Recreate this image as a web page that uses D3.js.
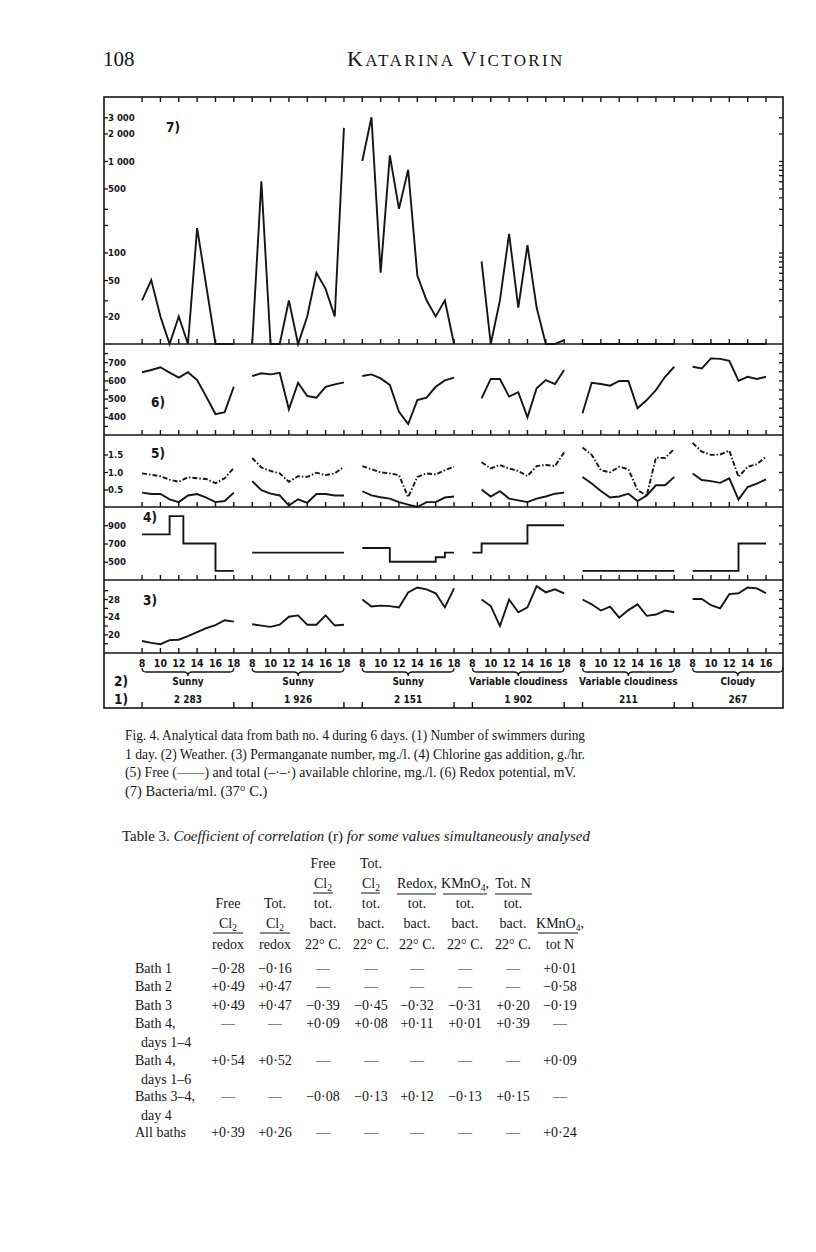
<!DOCTYPE html>
<html>
<head>
<meta charset="utf-8">
<script src="https://cdn.jsdelivr.net/npm/d3@7"></script>
<style>
  body { margin: 0; background: #fff; }
  .sans { font-family: "DejaVu Sans Condensed", "Liberation Sans Narrow", "DejaVu Sans", sans-serif; font-stretch: condensed; font-weight: bold; }
  .serif { font-family: "Liberation Serif", "DejaVu Serif", serif; }
</style>
</head>
<body>
<div id="page"></div>
<script>
// hours sampled each day, and tick hours
var hours = [8, 9, 10, 11, 12, 13, 14, 15, 16, 17, 18];
var hourTicks = [8, 10, 12, 14, 16, 18];
var hourLabels6 = [8, 10, 12, 14, 16];

// (1) swimmers and (2) weather per day
var swimmers = ["2 283", "1 926", "2 151", "1 902", "211", "267"];
var weather = ["Sunny", "Sunny", "Sunny", "Variable cloudiness", "Variable cloudiness", "Cloudy"];

// (7) bacteria/ml, 37 C  (10 = at or below the baseline)
var bacteria = [
  [30, 50, 20, 10, 20, 10, 185, 43, 10, 10, 10],
  [10, 600, 10, 10, 30, 10, 20, 60, 40, 20, 2300],
  [1000, 3000, 60, 1150, 300, 800, 56, 30, 20, 30, 10],
  [null, 80, 10, 30, 160, 25, 120, 25, 10, 10, 11],
  [10, 10, 10, 10, 10, 10, 10, 10, 10, 10, 10],
  [10, 10, 10, 10, 10, 10, 10, 10, 10]
];

// (6) redox potential, mV
var redox = [
  [645, 657, 672, 643, 615, 645, 602, 510, 415, 426, 565],
  [624, 639, 633, 642, 441, 587, 514, 505, 565, 578, 589],
  [624, 633, 611, 575, 428, 360, 492, 505, 565, 600, 615],
  [null, 501, 608, 608, 511, 535, 397, 557, 602, 580, 657],
  [419, 587, 580, 571, 597, 597, 447, 492, 547, 620, 675],
  [675, 666, 721, 718, 708, 598, 620, 608, 620]
];

// (5) free and total available chlorine, mg/l
var freeCl = [
  [0.41, 0.37, 0.37, 0.22, 0.14, 0.33, 0.37, 0.27, 0.14, 0.17, 0.41],
  [0.74, 0.48, 0.38, 0.33, 0.04, 0.22, 0.12, 0.37, 0.37, 0.33, 0.33],
  [0.45, 0.33, 0.28, 0.24, 0.14, 0.07, 0.0, 0.14, 0.14, 0.27, 0.30],
  [null, 0.50, 0.30, 0.45, 0.24, 0.19, 0.14, 0.24, 0.30, 0.38, 0.41],
  [0.86, 0.67, 0.46, 0.27, 0.30, 0.38, 0.17, 0.33, 0.62, 0.62, 0.86],
  [0.96, 0.77, 0.74, 0.69, 0.82, 0.21, 0.57, 0.67, 0.79]
];
var totalCl = [
  [0.96, 0.92, 0.88, 0.78, 0.72, 0.85, 0.82, 0.80, 0.68, 0.82, 1.12],
  [1.40, 1.13, 1.03, 0.96, 0.72, 0.88, 0.86, 0.98, 0.91, 0.96, 1.15],
  [1.17, 1.08, 0.99, 0.96, 0.91, 0.28, 0.86, 0.96, 0.93, 1.05, 1.15],
  [null, 1.28, 1.10, 1.20, 1.10, 1.03, 0.88, 1.17, 1.20, 1.17, 1.56],
  [1.70, 1.49, 1.05, 0.99, 1.15, 1.08, 0.48, 0.33, 1.41, 1.40, 1.66],
  [1.83, 1.58, 1.49, 1.50, 1.61, 0.86, 1.15, 1.22, 1.44]
];

// (4) chlorine gas addition, g/hr (steps: start hours and values)
var gasHours = [
  [8, 11, 12.5, 16, 18],
  [8, 18],
  [8, 11, 16, 17, 18],
  [8, 9, 14, 18],
  [8, 18],
  [8, 13, 16]
];
var gasValues = [
  [800, 1000, 700, 400, 400],
  [600, 600],
  [650, 500, 550, 600, 600],
  [600, 700, 900, 900],
  [400, 400],
  [400, 700, 700]
];

// (3) permanganate number, mg/l
var permanganate = [
  [18.5, 18.1, 17.8, 18.7, 18.8, 19.6, 20.5, 21.4, 22.1, 23.2, 22.9],
  [22.3, 22.0, 21.7, 22.2, 24.0, 24.3, 22.2, 22.2, 24.3, 22.0, 22.2],
  [27.9, 26.3, 26.5, 26.4, 26.1, 29.5, 30.6, 30.2, 29.3, 26.1, 30.4],
  [null, 27.9, 26.4, 21.9, 27.9, 25.0, 26.1, 30.9, 29.5, 30.2, 29.3],
  [27.9, 26.8, 25.4, 26.3, 23.8, 25.5, 26.8, 24.2, 24.5, 25.4, 25.0],
  [28.0, 28.0, 26.6, 25.9, 29.1, 29.3, 30.6, 30.4, 29.3]
];

// y tick values
var bactLeftTicks = [3000, 2000, 1000, 500, 300, 200, 100, 50, 30, 20];
var bactLabels = { 3000: "3 000", 2000: "2 000", 1000: "1 000", 500: "500", 100: "100", 50: "50", 20: "20" };
var bactRightTicks = [3000, 2000, 1000, 900, 800, 700, 600, 500, 400, 300, 200, 100, 90, 80, 70, 60, 50, 40, 30, 20];
var redoxTicks = [350, 400, 450, 500, 550, 600, 650, 700, 750];
var redoxLabels = [400, 500, 600, 700];
var clTicks = [0.5, 1.0, 1.5];
var gasTicks = [500, 700, 900];
var kmnTicks = [18, 20, 22, 24, 26, 28, 30];
var kmnLabels = [20, 24, 28];

// Table 3
var tableRowLabels = [["Bath 1"], ["Bath 2"], ["Bath 3"], ["Bath 4,", "days 1\u20134"], ["Bath 4,", "days 1\u20136"], ["Baths 3\u20134,", "day 4"], ["All baths"]];
var tableValues = [
  ["\u22120\u00b728", "\u22120\u00b716", "\u2014", "\u2014", "\u2014", "\u2014", "\u2014", "+0\u00b701"],
  ["+0\u00b749", "+0\u00b747", "\u2014", "\u2014", "\u2014", "\u2014", "\u2014", "\u22120\u00b758"],
  ["+0\u00b749", "+0\u00b747", "\u22120\u00b739", "\u22120\u00b745", "\u22120\u00b732", "\u22120\u00b731", "+0\u00b720", "\u22120\u00b719"],
  ["\u2014", "\u2014", "+0\u00b709", "+0\u00b708", "+0\u00b711", "+0\u00b701", "+0\u00b739", "\u2014"],
  ["+0\u00b754", "+0\u00b752", "\u2014", "\u2014", "\u2014", "\u2014", "\u2014", "+0\u00b709"],
  ["\u2014", "\u2014", "\u22120\u00b708", "\u22120\u00b713", "+0\u00b712", "\u22120\u00b713", "+0\u00b715", "\u2014"],
  ["+0\u00b739", "+0\u00b726", "\u2014", "\u2014", "\u2014", "\u2014", "\u2014", "+0\u00b724"]
];

var ink = "#151515";
var svg = d3.select("#page").append("svg")
  .attr("width", 816).attr("height", 1252)
  .style("background", "#fff");

// page header
svg.append("text").attr("class", "serif").attr("x", 103).attr("y", 66)
  .attr("font-size", 21).attr("fill", ink).text("108");
var hdr = svg.append("text").attr("class", "serif").attr("x", 347).attr("y", 66)
  .attr("fill", ink).attr("letter-spacing", 2.4);
hdr.append("tspan").attr("font-size", 22).text("K");
hdr.append("tspan").attr("font-size", 17).text("ATARINA ");
hdr.append("tspan").attr("font-size", 22).text("V");
hdr.append("tspan").attr("font-size", 17).text("ICTORIN");

// frame and panel bounds
var figLeft = 104, figRight = 783, figTop = 97, figBottom = 708;
var x = d3.scaleLinear().domain([-4.15, 69.85]).range([figLeft, figRight]);
function tx(day, h) { return x(day * 12 + h - 8); }

var y7 = d3.scaleLog().domain([10, 5000]).range([344, 97]);
var y6 = d3.scaleLinear().domain([300, 800]).range([435, 344]);
var y5 = d3.scaleLinear().domain([0, 2.057]).range([507, 435]);
var y4 = d3.scaleLinear().domain([300, 1100]).range([580, 507]);
var y3 = d3.scaleLinear().domain([15.8, 32.3]).range([653, 580]);
var panelBottoms = [344, 435, 507, 580, 653];

var fig = svg.append("g");
fig.append("rect").attr("x", figLeft).attr("y", figTop)
  .attr("width", figRight - figLeft).attr("height", figBottom - figTop)
  .attr("fill", "none").attr("stroke", ink).attr("stroke-width", 1.6);
panelBottoms.forEach(function (yb) {
  fig.append("line").attr("x1", figLeft).attr("x2", figRight).attr("y1", yb).attr("y2", yb)
    .attr("stroke", ink).attr("stroke-width", 1.5);
});

// hour ticks: up from each panel bottom, down from top
var tickX = [];
d3.range(6).forEach(function (day) {
  hourTicks.forEach(function (h) {
    var px = tx(day, h);
    if (px < figRight - 2) tickX.push(px);
  });
});
panelBottoms.forEach(function (yb) {
  fig.selectAll(null).data(tickX).enter().append("line")
    .attr("x1", d => d).attr("x2", d => d).attr("y1", yb).attr("y2", yb - 5)
    .attr("stroke", ink).attr("stroke-width", 1.4);
});
fig.selectAll(null).data(tickX).enter().append("line")
  .attr("x1", d => d).attr("x2", d => d).attr("y1", figTop).attr("y2", figTop + 5)
  .attr("stroke", ink).attr("stroke-width", 1.4);

// day boundary ticks on the bottom row
var dayEdges = [];
d3.range(6).forEach(function (day) {
  dayEdges.push(tx(day, 8));
  if (day < 5) dayEdges.push(tx(day, 18));
});
fig.selectAll(null).data(dayEdges).enter().append("line")
  .attr("x1", d => d).attr("x2", d => d).attr("y1", figBottom).attr("y2", figBottom - 6)
  .attr("stroke", ink).attr("stroke-width", 1.4);

// y axes: left with labels, right ticks only
function yAxes(scale, leftTicks, fmt, rightTicks) {
  var gl = fig.append("g").attr("class", "sans").attr("transform", "translate(" + figLeft + ",0)")
    .call(d3.axisRight(scale).tickValues(leftTicks).tickSize(4).tickPadding(0).tickFormat(fmt));
  gl.select(".domain").remove();
  gl.selectAll("line").attr("stroke", ink).attr("stroke-width", 1.3);
  gl.selectAll("text").attr("font-size", 9.5).attr("fill", ink).attr("font-family", null);
  var gr = fig.append("g").attr("transform", "translate(" + figRight + ",0)")
    .call(d3.axisLeft(scale).tickValues(rightTicks).tickSize(4).tickFormat(""));
  gr.select(".domain").remove();
  gr.selectAll("line").attr("stroke", ink).attr("stroke-width", 1.3);
}
yAxes(y7, bactLeftTicks, d => bactLabels[d] || "", bactRightTicks);
yAxes(y6, redoxTicks, d => redoxLabels.indexOf(d) >= 0 ? d : "", redoxTicks);
yAxes(y5, clTicks, d3.format(".1f"), clTicks);
yAxes(y4, gasTicks, d => d, gasTicks);
yAxes(y3, kmnTicks, d => kmnLabels.indexOf(d) >= 0 ? d : "", kmnTicks);

// panel numbers
var panelTags = [["7)", 166, 132], ["6)", 151, 407], ["5)", 151, 458], ["4)", 143, 522], ["3)", 143, 605], ["2)", 114, 686], ["1)", 114, 704]];
fig.selectAll(null).data(panelTags).enter().append("text")
  .attr("class", "sans").attr("x", d => d[1]).attr("y", d => d[2])
  .attr("font-size", 13.5).attr("fill", ink).text(d => d[0]);

// series lines, one path per day
function drawDays(series, scale, dash) {
  series.forEach(function (vals, day) {
    var pts = vals.map(function (v, i) { return [hours[i], v]; });
    fig.append("path").datum(pts)
      .attr("d", d3.line().defined(d => d[1] != null)
        .x(d => tx(day, d[0])).y(d => scale(d[1])))
      .attr("fill", "none").attr("stroke", ink).attr("stroke-width", 1.9)
      .attr("stroke-linejoin", "miter")
      .attr("stroke-dasharray", dash || null);
  });
}
drawDays(bacteria, y7);
drawDays(redox, y6);
drawDays(freeCl, y5);
drawDays(totalCl, y5, "5,2,1.5,2");
drawDays(permanganate, y3);

// chlorine gas steps
gasHours.forEach(function (hs, day) {
  var pts = hs.map(function (h, i) { return [h, gasValues[day][i]]; });
  fig.append("path").datum(pts)
    .attr("d", d3.line().curve(d3.curveStepAfter).x(d => tx(day, d[0])).y(d => y4(d[1])))
    .attr("fill", "none").attr("stroke", ink).attr("stroke-width", 1.9);
});

// hour labels, braces, weather, swimmers
d3.range(6).forEach(function (day) {
  var hl = day < 5 ? hourTicks : hourLabels6;
  fig.selectAll(null).data(hl).enter().append("text")
    .attr("class", "sans").attr("x", h => tx(day, h)).attr("y", 667)
    .attr("text-anchor", "middle").attr("font-size", 10.5).attr("fill", ink).text(h => h);
  var x0 = tx(day, 8), x1 = Math.min(tx(day, 18), figRight), xc = (x0 + x1) / 2;
  fig.append("path")
    .attr("d", "M" + x0 + ",668 Q" + x0 + ",672 " + (x0 + 4) + ",672 L" + (xc - 4) + ",672 Q" + xc + ",672 " + xc + ",676 Q" + xc + ",672 " + (xc + 4) + ",672 L" + (x1 - 4) + ",672 Q" + x1 + ",672 " + x1 + ",668")
    .attr("fill", "none").attr("stroke", ink).attr("stroke-width", 1.3);
  fig.append("text").attr("class", "sans").attr("x", xc).attr("y", 685)
    .attr("text-anchor", "middle").attr("font-size", 10).attr("fill", ink).text(weather[day]);
  fig.append("text").attr("class", "sans").attr("x", xc).attr("y", 703)
    .attr("text-anchor", "middle").attr("font-size", 10).attr("fill", ink).text(swimmers[day]);
});

// figure caption
var caption = [
  ["Fig. 4. Analytical data from bath no. 4 during 6 days. (1) Number of swimmers during", 460],
  ["1 day. (2) Weather. (3) Permanganate number, mg./l. (4) Chlorine gas addition, g./hr.", 460],
  ["(5) Free (\u2014\u2014) and total (\u2013\u00b7\u2013\u00b7) available chlorine, mg./l. (6) Redox potential, mV.", 451],
  ["(7) Bacteria/ml. (37\u00b0 C.)", null]
];
caption.forEach(function (c, i) {
  var t = svg.append("text").attr("class", "serif").attr("x", 125).attr("y", 740 + i * 18.5)
    .attr("font-size", 14.5).attr("fill", ink).text(c[0]);
  if (c[1]) t.attr("textLength", c[1]).attr("lengthAdjust", "spacingAndGlyphs");
});

// table title
var tt = svg.append("text").attr("class", "serif").attr("x", 122).attr("y", 841)
  .attr("font-size", 14.9).attr("fill", ink);
tt.append("tspan").text("Table 3. ");
tt.append("tspan").attr("font-style", "italic").text("Coefficient of correlation ");
tt.append("tspan").text("(r) ");
tt.append("tspan").attr("font-style", "italic").text("for some values simultaneously analysed");

// table headers
var colX = [228, 275, 323, 371, 417, 465, 513, 560];
var tbl = svg.append("g").attr("class", "serif").attr("font-size", 14).attr("fill", ink);
function cell(xc, yb, parts) {
  var t = tbl.append("text").attr("x", xc).attr("y", yb).attr("text-anchor", "middle");
  parts.forEach(function (p) {
    if (typeof p === "string") t.append("tspan").text(p);
    else t.append("tspan").attr("font-size", 9.5).attr("dy", 3).text(p[0])
      .clone().attr("font-size", 14).attr("dy", -3).text(p[1] || "");
  });
}
function rule(x0, x1, yy) {
  tbl.append("line").attr("x1", x0).attr("x2", x1).attr("y1", yy).attr("y2", yy)
    .attr("stroke", ink).attr("stroke-width", 1);
}
cell(colX[2], 868, ["Free"]); cell(colX[3], 868, ["Tot."]);
cell(colX[2], 888, ["Cl", ["2"]]); cell(colX[3], 888, ["Cl", ["2"]]);
cell(colX[4], 888, ["Redox,"]); cell(colX[5], 888, ["KMnO", ["4", ","]]); cell(colX[6], 888, ["Tot. N"]);
rule(313, 333, 893); rule(361, 380, 893); rule(397, 436, 894); rule(443, 487, 894); rule(495, 532, 894);
cell(colX[0], 908, ["Free"]); cell(colX[1], 908, ["Tot."]);
[2, 3, 4, 5, 6].forEach(function (c) { cell(colX[c], 908, ["tot."]); });
cell(colX[0], 928, ["Cl", ["2"]]); cell(colX[1], 928, ["Cl", ["2"]]);
[2, 3, 4, 5, 6].forEach(function (c) { cell(colX[c], 928, ["bact."]); });
cell(colX[7], 928, ["KMnO", ["4", ","]]);
rule(213, 243, 933); rule(260, 290, 933); rule(538, 578, 933);
cell(colX[0], 949, ["redox"]); cell(colX[1], 949, ["redox"]);
[2, 3, 4, 5, 6].forEach(function (c) { cell(colX[c], 949, ["22\u00b0 C."]); });
cell(colX[7], 949, ["tot N"]);

// table body
var rowY = [973, 991, 1010, 1028, 1065, 1101, 1137];
tableRowLabels.forEach(function (lab, r) {
  tbl.append("text").attr("x", 135).attr("y", rowY[r]).text(lab[0]);
  if (lab[1]) tbl.append("text").attr("x", 141).attr("y", rowY[r] + 18.5).text(lab[1]);
  tableValues[r].forEach(function (v, c) {
    tbl.append("text").attr("x", colX[c]).attr("y", rowY[r]).attr("text-anchor", "middle").text(v);
  });
});
</script>
</body>
</html>
